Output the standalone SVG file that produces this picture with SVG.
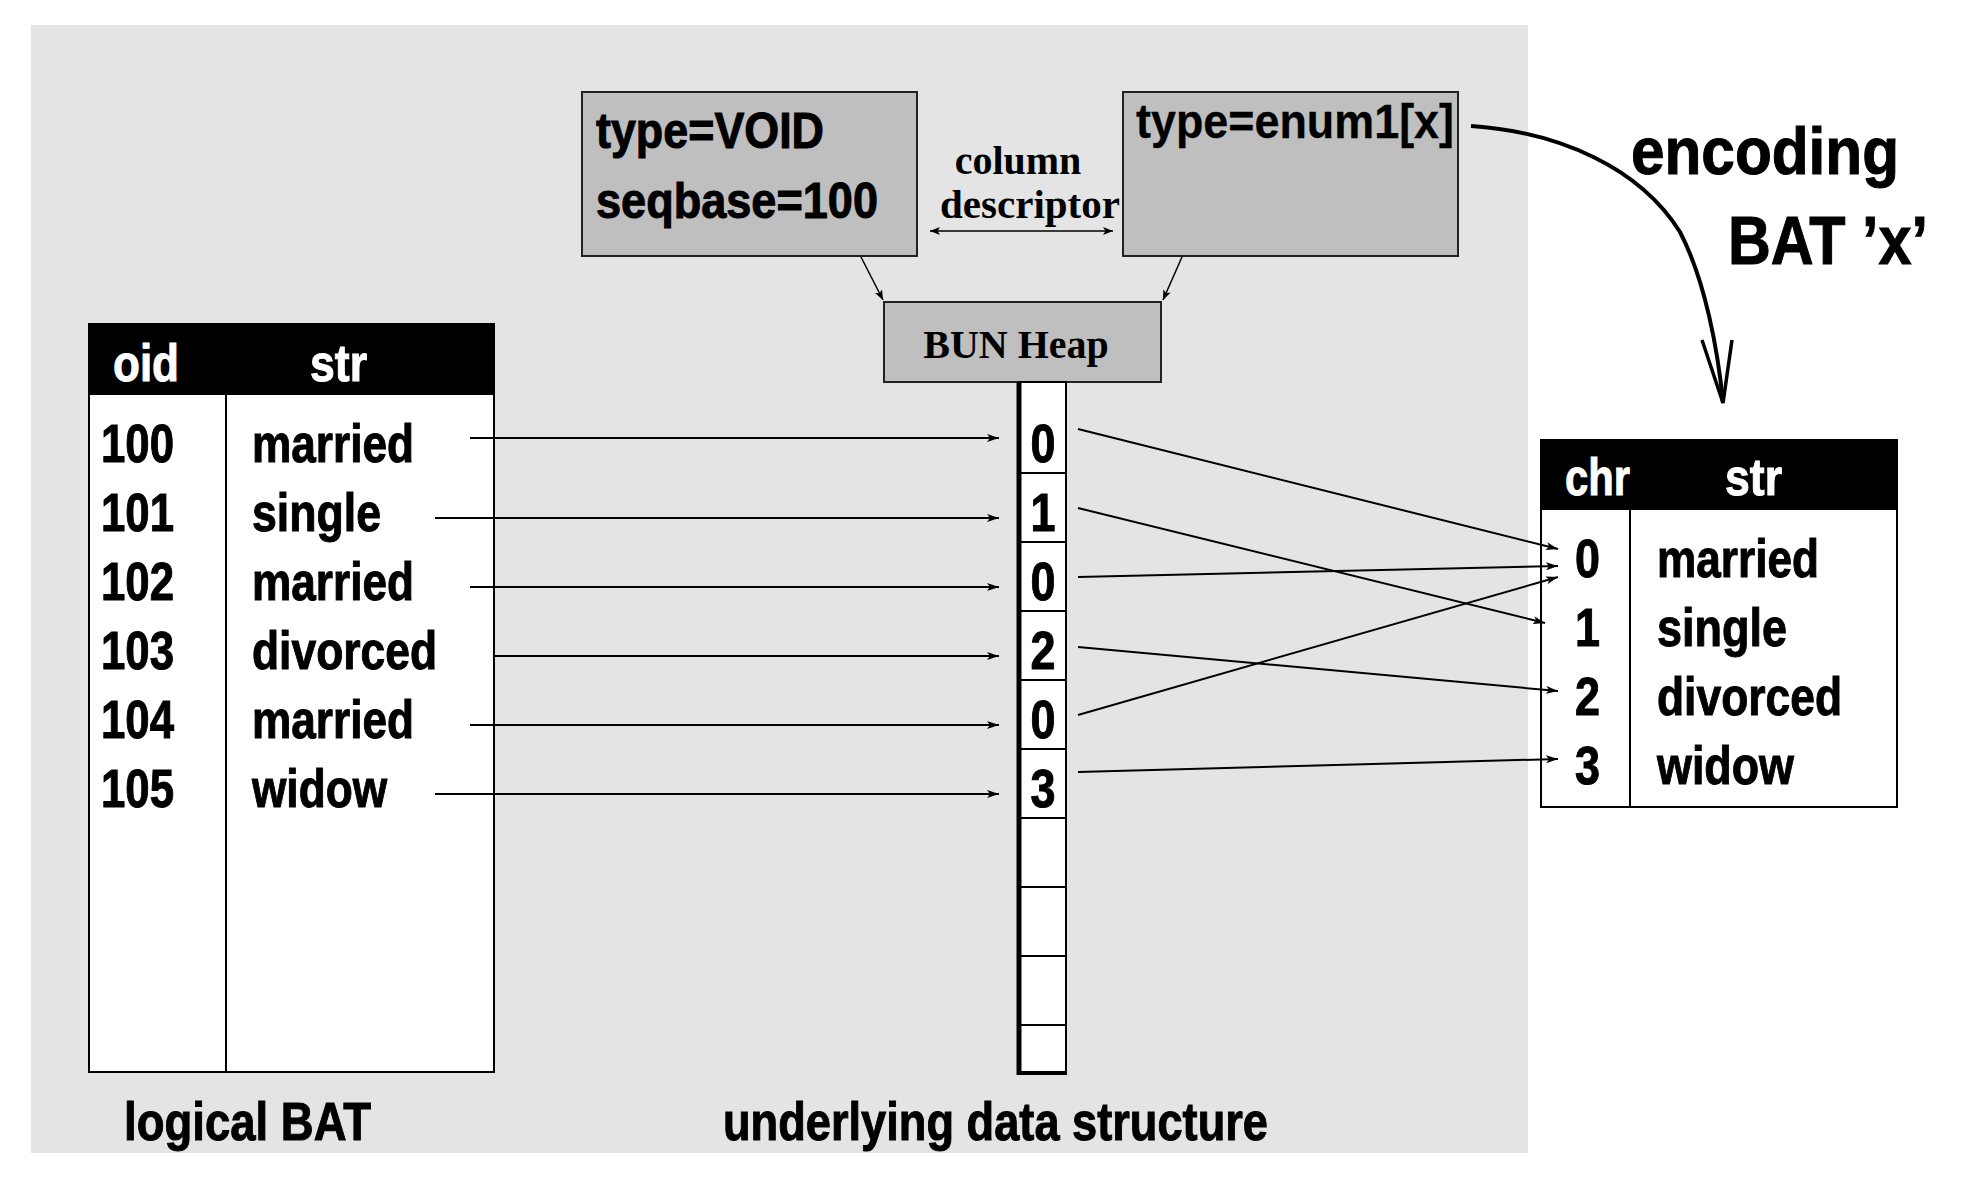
<svg xmlns="http://www.w3.org/2000/svg" width="1966" height="1204" viewBox="0 0 1966 1204">
<style>
.sans{font-family:"Liberation Sans",Arial,sans-serif;font-weight:bold;fill:#000;stroke:#000;stroke-width:1}
.serif{font-family:"Liberation Serif","Times New Roman",serif;font-weight:bold;fill:#000}
.hdr{fill:#fff;stroke:#fff}
.light{stroke-width:0.3}
.cell{fill:#fff;stroke:#000;stroke-width:2}
.box{fill:#bfbfbf;stroke:#222;stroke-width:2}
.ln{fill:none;stroke:#000;stroke-width:2}
.conn{fill:none;stroke:#000;stroke-width:2;marker-end:url(#ah)}
.thin{fill:none;stroke:#000;stroke-width:1.5}
</style>
<defs>
<marker id="ah" viewBox="0 0 12 8" refX="12" refY="4" markerWidth="12" markerHeight="8" markerUnits="userSpaceOnUse" orient="auto">
<path d="M0,0 L12,4 L0,8 L3,4 z" fill="#000"/>
</marker>
<marker id="ahs" viewBox="0 0 10 8" refX="10" refY="4" markerWidth="10" markerHeight="8" markerUnits="userSpaceOnUse" orient="auto-start-reverse">
<path d="M0,0 L10,4 L0,8 L2.5,4 z" fill="#000"/>
</marker>
</defs>
<rect x="0" y="0" width="1966" height="1204" fill="#fff"/>
<rect x="31" y="25" width="1497" height="1128" fill="#e4e4e4"/>

<g id="logical-bat">
<rect class="cell" x="89" y="324" width="405" height="748"/>
<rect x="89" y="324" width="405" height="71" fill="#000"/>
<line class="ln" x1="226" y1="395" x2="226" y2="1072"/>
<text class="sans hdr" x="113" y="381" font-size="52" textLength="66" lengthAdjust="spacingAndGlyphs">oid</text>
<text class="sans hdr" x="310" y="381" font-size="52" textLength="57" lengthAdjust="spacingAndGlyphs">str</text>
<g font-size="54">
<text class="sans" x="101" y="462" textLength="73" lengthAdjust="spacingAndGlyphs">100</text>
<text class="sans" x="101" y="531" textLength="73" lengthAdjust="spacingAndGlyphs">101</text>
<text class="sans" x="101" y="600" textLength="73" lengthAdjust="spacingAndGlyphs">102</text>
<text class="sans" x="101" y="669" textLength="73" lengthAdjust="spacingAndGlyphs">103</text>
<text class="sans" x="101" y="738" textLength="73" lengthAdjust="spacingAndGlyphs">104</text>
<text class="sans" x="101" y="807" textLength="73" lengthAdjust="spacingAndGlyphs">105</text>
<text class="sans" x="252" y="462" textLength="162" lengthAdjust="spacingAndGlyphs">married</text>
<text class="sans" x="252" y="531" textLength="129" lengthAdjust="spacingAndGlyphs">single</text>
<text class="sans" x="252" y="600" textLength="162" lengthAdjust="spacingAndGlyphs">married</text>
<text class="sans" x="252" y="669" textLength="185" lengthAdjust="spacingAndGlyphs">divorced</text>
<text class="sans" x="252" y="738" textLength="162" lengthAdjust="spacingAndGlyphs">married</text>
<text class="sans" x="252" y="807" textLength="135" lengthAdjust="spacingAndGlyphs">widow</text>
</g>
<text class="sans" x="124" y="1140" font-size="54" textLength="247" lengthAdjust="spacingAndGlyphs">logical BAT</text>
</g>

<g id="void-descriptor">
<rect class="box" x="582" y="92" width="335" height="164"/>
<text class="sans" x="596" y="148" font-size="50" textLength="228" lengthAdjust="spacingAndGlyphs">type=VOID</text>
<text class="sans" x="596" y="218" font-size="50" textLength="282" lengthAdjust="spacingAndGlyphs">seqbase=100</text>
</g>

<g id="enum-descriptor">
<rect class="box" x="1123" y="92" width="335" height="164"/>
<text class="sans light" x="1136" y="138" font-size="48" textLength="318" lengthAdjust="spacingAndGlyphs">type=enum1[x]</text>
</g>

<g id="column-descriptor-label">
<text class="serif" x="1018" y="174" font-size="40" text-anchor="middle">column</text>
<text class="serif" x="1030" y="218" font-size="40" text-anchor="middle" textLength="180" lengthAdjust="spacingAndGlyphs">descriptor</text>
</g>

<g id="bun-heap">
<rect class="box" x="884" y="302" width="277" height="80"/>
<text class="serif" x="1016" y="358" font-size="40" text-anchor="middle">BUN Heap</text>
</g>

<g id="heap-column">
<rect x="1019" y="382" width="47" height="691" fill="#fff" stroke="#000" stroke-width="2"/>
<line x1="1019" y1="382" x2="1019" y2="1075" stroke="#000" stroke-width="5"/>
<line x1="1017" y1="1073" x2="1067" y2="1073" stroke="#000" stroke-width="4"/>
<g class="ln">
<line x1="1019" y1="473" x2="1066" y2="473"/>
<line x1="1019" y1="542" x2="1066" y2="542"/>
<line x1="1019" y1="611" x2="1066" y2="611"/>
<line x1="1019" y1="680" x2="1066" y2="680"/>
<line x1="1019" y1="749" x2="1066" y2="749"/>
<line x1="1019" y1="818" x2="1066" y2="818"/>
<line x1="1019" y1="887" x2="1066" y2="887"/>
<line x1="1019" y1="956" x2="1066" y2="956"/>
<line x1="1019" y1="1025" x2="1066" y2="1025"/>
</g>
<g font-size="54" text-anchor="middle">
<text class="sans" x="1043" y="462" textLength="25" lengthAdjust="spacingAndGlyphs">0</text>
<text class="sans" x="1043" y="531" textLength="25" lengthAdjust="spacingAndGlyphs">1</text>
<text class="sans" x="1043" y="600" textLength="25" lengthAdjust="spacingAndGlyphs">0</text>
<text class="sans" x="1043" y="669" textLength="25" lengthAdjust="spacingAndGlyphs">2</text>
<text class="sans" x="1043" y="738" textLength="25" lengthAdjust="spacingAndGlyphs">0</text>
<text class="sans" x="1043" y="807" textLength="25" lengthAdjust="spacingAndGlyphs">3</text>
</g>
<text class="sans" x="723" y="1140" font-size="54" textLength="545" lengthAdjust="spacingAndGlyphs">underlying data structure</text>
</g>

<g id="encoding-bat">
<rect class="cell" x="1541" y="440" width="356" height="367"/>
<rect x="1541" y="440" width="356" height="70" fill="#000"/>
<line class="ln" x1="1630" y1="510" x2="1630" y2="807"/>
<text class="sans hdr" x="1565" y="495" font-size="52" textLength="65" lengthAdjust="spacingAndGlyphs">chr</text>
<text class="sans hdr" x="1725" y="495" font-size="52" textLength="57" lengthAdjust="spacingAndGlyphs">str</text>
<g font-size="54">
<text class="sans" x="1575" y="577" textLength="25" lengthAdjust="spacingAndGlyphs">0</text>
<text class="sans" x="1575" y="646" textLength="25" lengthAdjust="spacingAndGlyphs">1</text>
<text class="sans" x="1575" y="715" textLength="25" lengthAdjust="spacingAndGlyphs">2</text>
<text class="sans" x="1575" y="784" textLength="25" lengthAdjust="spacingAndGlyphs">3</text>
<text class="sans" x="1657" y="577" textLength="162" lengthAdjust="spacingAndGlyphs">married</text>
<text class="sans" x="1657" y="646" textLength="130" lengthAdjust="spacingAndGlyphs">single</text>
<text class="sans" x="1657" y="715" textLength="185" lengthAdjust="spacingAndGlyphs">divorced</text>
<text class="sans" x="1657" y="784" textLength="137" lengthAdjust="spacingAndGlyphs">widow</text>
</g>
<text class="sans" x="1631" y="174" font-size="66" textLength="268" lengthAdjust="spacingAndGlyphs">encoding</text>
<text class="sans" x="1728" y="264" font-size="68" textLength="200" lengthAdjust="spacingAndGlyphs">BAT ’x’</text>
</g>

<g id="connectors">
<line class="thin" x1="930" y1="231" x2="1113" y2="231" marker-start="url(#ahs)" marker-end="url(#ahs)"/>
<line class="thin" x1="861" y1="257" x2="883" y2="300" marker-end="url(#ahs)"/>
<line class="thin" x1="1182" y1="257" x2="1163" y2="300" marker-end="url(#ahs)"/>
<line class="conn" x1="470" y1="438" x2="999" y2="438"/>
<line class="conn" x1="435" y1="518" x2="999" y2="518"/>
<line class="conn" x1="470" y1="587" x2="999" y2="587"/>
<line class="conn" x1="494" y1="656" x2="999" y2="656"/>
<line class="conn" x1="470" y1="725" x2="999" y2="725"/>
<line class="conn" x1="435" y1="794" x2="999" y2="794"/>
<line class="conn" x1="1078" y1="429" x2="1558" y2="549"/>
<line class="conn" x1="1078" y1="508" x2="1545" y2="623"/>
<line class="conn" x1="1078" y1="577" x2="1558" y2="566"/>
<line class="conn" x1="1078" y1="647" x2="1558" y2="691"/>
<line class="conn" x1="1078" y1="715" x2="1558" y2="577"/>
<line class="conn" x1="1078" y1="772" x2="1558" y2="759"/>
<path d="M1471,126 C1560,132 1640,168 1680,232 C1705,280 1718,350 1723,403" fill="none" stroke="#000" stroke-width="4"/>
<path d="M1702,340 L1723,403 L1732,340" fill="none" stroke="#000" stroke-width="3.5"/>
</g>
</svg>
